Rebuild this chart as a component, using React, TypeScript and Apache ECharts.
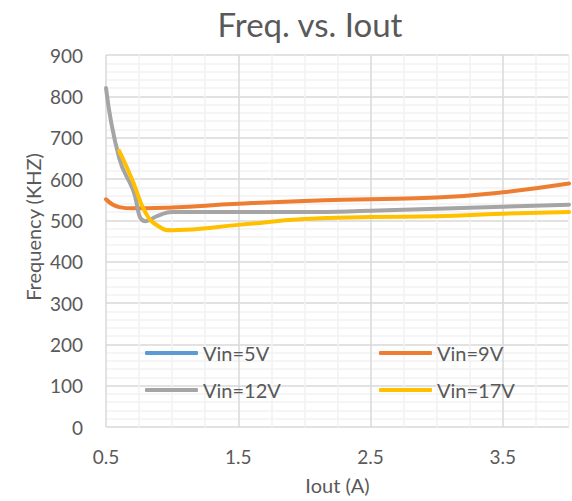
import React, { useEffect, useRef } from 'react';
import * as echarts from 'echarts';

const seriesNames = ['Vin=5V', 'Vin=9V', 'Vin=12V', 'Vin=17V'];
const seriesColors = ['#5B9BD5', '#ED7D31', '#A5A5A5', '#FFC000'];

const iout5V: number[] = [];
const freq5V: number[] = [];
const iout9V = [0.5, 0.6, 0.7, 0.8, 1.0, 1.5, 2.0, 2.5, 3.0, 3.5, 4.0];
const freq9V = [551, 532, 529, 529, 531, 540, 547, 551, 555, 568, 589];
const iout12V = [0.5, 0.6, 0.7, 0.8, 0.9, 1.0, 1.5, 2.0, 2.5, 3.0, 3.5, 4.0];
const freq12V = [820, 650, 577, 498, 512, 520, 520, 520, 523, 528, 533, 538];
const iout17V = [0.6, 0.7, 0.8, 0.9, 1.0, 1.5, 2.0, 2.5, 3.0, 3.5, 4.0];
const freq17V = [668, 597, 518, 485, 476, 489, 503, 508, 510, 516, 520];

const xTickLabels = ['0.5', '1.5', '2.5', '3.5'];
const yTickLabels = ['0', '100', '200', '300', '400', '500', '600', '700', '800', '900'];

const FONT = 'Lato';
const TEXT = '#595959';

const pairs = (xs: number[], ys: number[]) => xs.map((x, i) => [x, ys[i]]);

export default function App() {
  const ref = useRef<HTMLDivElement>(null);
  useEffect(() => {
    if (!ref.current) return;
    const chart = echarts.init(ref.current, null, { renderer: 'svg' });
    const allData = [
      pairs(iout5V, freq5V),
      pairs(iout9V, freq9V),
      pairs(iout12V, freq12V),
      pairs(iout17V, freq17V),
    ];
    const legendBase = {
      orient: 'vertical',
      top: 338,
      itemGap: 17,
      icon: 'roundRect',
      itemWidth: 53,
      itemHeight: 4,
      textStyle: { fontFamily: FONT, fontSize: 20, color: TEXT },
    };
    chart.setOption({
      animation: false,
      backgroundColor: '#ffffff',
      textStyle: { fontFamily: FONT },
      title: {
        text: 'Freq. vs. Iout',
        left: 305,
        textAlign: 'center',
        top: 2,
        textStyle: { fontFamily: FONT, fontSize: 33, fontWeight: 'normal', color: TEXT },
      },
      grid: { left: 106, right: 0, top: 55, bottom: 74, containLabel: false },
      legend: [
        { ...legendBase, data: [seriesNames[0], seriesNames[2]], left: 140 },
        { ...legendBase, data: [seriesNames[1], seriesNames[3]], left: 374 },
      ],
      xAxis: {
        type: 'value',
        min: 0.5,
        max: 4,
        interval: 0.25,
        name: 'Iout (A)',
        nameLocation: 'middle',
        nameGap: 48,
        nameTextStyle: { fontFamily: FONT, fontSize: 20, color: TEXT },
        axisLine: { show: false },
        axisTick: { show: false },
        axisLabel: {
          interval: 0,
          hideOverlap: false,
          margin: 20,
          fontFamily: FONT,
          fontSize: 19,
          color: TEXT,
          formatter: (v: number) => (xTickLabels.includes(String(v)) ? String(v) : ''),
        },
        splitLine: {
          show: true,
          lineStyle: { color: ['#D9D9D9', '#F2F2F2', '#F2F2F2', '#F2F2F2'], width: 1.5 },
        },
      },
      yAxis: {
        type: 'value',
        min: 0,
        max: 900,
        interval: 20,
        axisLine: { show: false },
        axisTick: { show: false },
        axisLabel: {
          interval: 0,
          hideOverlap: false,
          margin: 23,
          fontFamily: FONT,
          fontSize: 19,
          color: TEXT,
          formatter: (v: number) => (yTickLabels.includes(String(v)) ? String(v) : ''),
        },
        splitLine: {
          show: true,
          lineStyle: { color: ['#D9D9D9', '#F2F2F2', '#F2F2F2', '#F2F2F2', '#F2F2F2'], width: 1.5 },
        },
      },
      graphic: [
        {
          type: 'text',
          x: 33,
          y: 227,
          rotation: Math.PI / 2,
          style: {
            text: 'Frequency (KHZ)',
            fontFamily: FONT,
            fontSize: 20,
            fill: TEXT,
            textAlign: 'center',
            textVerticalAlign: 'middle',
          },
        },
      ],
      series: seriesNames.map((name, i) => ({
        name,
        type: 'line',
        data: allData[i],
        smooth: 0.5,
        symbol: 'none',
        color: seriesColors[i],
        lineStyle: { color: seriesColors[i], width: 4, cap: 'round', join: 'round' },
        z: 2 + i,
      })),
    });
    return () => chart.dispose();
  }, []);
  return <div ref={ref} style={{ position: 'absolute', left: 0, top: 0, width: 572, height: 501 }} />;
}
